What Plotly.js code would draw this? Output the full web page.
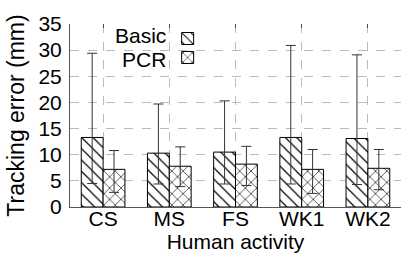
<!DOCTYPE html>
<html><head><meta charset="utf-8">
<script src="https://cdn.plot.ly/plotly-3.0.1.min.js"></script>
<style>html,body{margin:0;padding:0;background:#fff}#chart{width:401px;height:260px}</style>
</head><body><div id="chart"></div>
<script>
const categories = ["CS", "MS", "FS", "WK1", "WK2"];
const basicMean = [13.3, 10.3, 10.5, 13.3, 13.1];
const basicHigh = [29.4, 19.7, 20.3, 30.9, 29.1];
const basicLow  = [4.5, 4.4, 4.4, 4.4, 4.3];
const pcrMean = [7.2, 7.8, 8.2, 7.2, 7.4];
const pcrHigh = [10.8, 11.5, 11.6, 11.0, 11.0];
const pcrLow  = [2.8, 3.9, 4.1, 2.6, 3.3];
const seriesNames = ["Basic", "PCR"];

function mk(name, mean, hi, lo, shape) {
  return {
    type: "bar", name: name, x: categories, y: mean,
    marker: {color: "#fff", line: {color: "#000", width: 1},
      pattern: {shape: shape, fgcolor: "#000", bgcolor: "#fff", size: 8, solidity: 0.15}},
    error_y: {type: "data", symmetric: false,
      array: hi.map((h, i) => h - mean[i]),
      arrayminus: lo.map((l, i) => mean[i] - l),
      color: "#333", thickness: 1, width: 5},
    showlegend: true
  };
}
const data = [
  mk(seriesNames[0], basicMean, basicHigh, basicLow, "\\"),
  mk(seriesNames[1], pcrMean, pcrHigh, pcrLow, "x"),
  {type: "scatter", mode: "markers", x: categories, y: basicMean, xaxis: "x2",
   marker: {opacity: 0}, showlegend: false, hoverinfo: "skip"}
];
data.forEach(d => { if (d.type === "bar") d.legendgroup = d.name; });
const font = {family: "Liberation Sans, Arial, sans-serif", size: 21, color: "#000"};
const layout = {
  width: 401, height: 260,
  margin: {l: 70, r: 0, t: 24, b: 53},
  paper_bgcolor: "#fff", plot_bgcolor: "#fff",
  font: font,
  barmode: "group", bargap: 0.34, bargroupgap: 0,
  xaxis: {type: "category", range: [-0.5, 4.5],
    showgrid: true, gridcolor: "#bbb", griddash: "dash", gridwidth: 1,
    showline: true, linecolor: "#555", linewidth: 1, zeroline: false,
    ticks: "", tickfont: {size: 21}, ticklabelstandoff: -7,
    title: {text: "Human activity", font: {size: 21}, standoff: 0}},
  xaxis2: {type: "category", overlaying: "x", side: "top", range: [-0.5, 4.5],
    showticklabels: false,
    ticks: "inside", ticklen: 4, tickcolor: "#444", tickwidth: 1,
    showgrid: false, showline: false, zeroline: false},
  yaxis: {range: [0, 35], dtick: 5,
    showgrid: true, gridcolor: "#bbb", griddash: "dash", gridwidth: 1,
    showline: true, linecolor: "#555", linewidth: 1, zeroline: false,
    ticks: "", tickfont: {size: 21}, ticklabelstandoff: 3,
    title: {text: "Tracking error (mm)", font: {size: 23}, standoff: 7}},
  showlegend: true,
  legend: {x: 0.295, y: 1.0, xanchor: "left", yanchor: "top",
    bgcolor: "rgba(0,0,0,0)", font: {size: 1, color: "rgba(0,0,0,0)"},
    itemwidth: 30, tracegroupgap: 0},
  annotations: [
    {text: "Basic", xref: "paper", yref: "paper", x: 0.295, y: 0.937, xanchor: "right", yanchor: "middle", showarrow: false, font: {size: 21}},
    {text: "PCR", xref: "paper", yref: "paper", x: 0.295, y: 0.806, xanchor: "right", yanchor: "middle", showarrow: false, font: {size: 21}}
  ]
};
Plotly.newPlot("chart", data, layout, {displayModeBar: false, staticPlot: true});
</script></body></html>
